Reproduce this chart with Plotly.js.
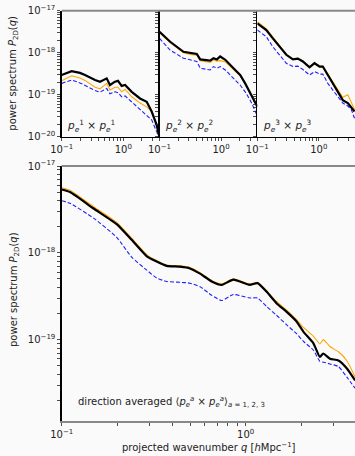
<!DOCTYPE html>
<html>
<head>
<meta charset="utf-8">
<script src="https://cdn.plot.ly/plotly-3.0.1.min.js"></script>
<style>html,body{margin:0;padding:0;background:#fafafa;}#chart{width:355px;height:456px;}</style>
</head>
<body>
<div id="chart"></div>
<script>
// ---- data ----
// panel 1: p_e^1 x p_e^1
const q1 = [0.100,0.145,0.198,0.239,0.348,0.419,0.538,0.608,0.733,0.820,0.942,1.07,1.37,1.87,2.40,2.89,3.48,3.79];
const p1Black  = [2.95e-19,3.63e-19,3.31e-19,2.95e-19,2.24e-19,2.04e-19,2.45e-19,1.70e-19,2.04e-19,2.14e-19,1.62e-19,1.70e-19,1.17e-19,8.13e-20,6.76e-20,3.98e-20,1.91e-20,1.10e-20];
const p1Orange = [2.14e-19,2.82e-19,2.51e-19,2.19e-19,1.51e-19,1.38e-19,1.86e-19,1.29e-19,1.51e-19,1.51e-19,1.17e-19,1.35e-19,8.91e-20,6.31e-20,5.13e-20,3.98e-20,1.91e-20,1.23e-20];
const p1Blue   = [1.86e-19,2.24e-19,1.91e-19,1.66e-19,1.26e-19,1.15e-19,1.41e-19,1.05e-19,1.17e-19,1.12e-19,8.91e-20,9.33e-20,6.76e-20,4.37e-20,3.31e-20,2.51e-20,1.32e-20,1.00e-20];
// panel 2: p_e^2 x p_e^2
const q2 = [0.100,0.149,0.245,0.315,0.404,0.458,0.665,0.753,0.855,0.966,1.17,1.59,2.04,2.46,2.97,3.36,3.90];
const p2Black  = [3.16e-18,1.82e-18,1.05e-18,9.77e-19,9.33e-19,6.92e-19,6.46e-19,7.41e-19,6.92e-19,8.13e-19,6.76e-19,4.27e-19,2.95e-19,1.86e-19,1.07e-19,7.41e-20,5.13e-20];
const p2Orange = [3.02e-18,1.74e-18,1.00e-18,9.12e-19,8.71e-19,6.46e-19,5.89e-19,6.76e-19,6.31e-19,6.46e-19,6.03e-19,3.98e-19,2.82e-19,1.82e-19,1.07e-19,7.59e-20,5.37e-20];
const p2Blue   = [2.19e-18,1.15e-18,7.41e-19,6.76e-19,6.17e-19,4.27e-19,3.89e-19,4.68e-19,4.27e-19,4.68e-19,3.89e-19,2.45e-19,1.70e-19,1.17e-19,7.41e-20,5.01e-20,3.02e-20];
// panel 3: p_e^3 x p_e^3
const q3 = [0.100,0.140,0.179,0.230,0.296,0.379,0.456,0.550,0.706,0.851,1.03,1.16,1.40,1.69,2.03,2.45,2.96,3.36,3.80];
const p3Black  = [5.01e-18,3.47e-18,2.19e-18,1.38e-18,8.91e-19,6.92e-19,7.24e-19,6.17e-19,4.47e-19,5.62e-19,4.68e-19,4.68e-19,2.95e-19,1.86e-19,1.17e-19,7.41e-20,6.31e-20,5.13e-20,3.98e-20];
const p3Orange = [5.50e-18,3.72e-18,2.34e-18,1.45e-18,9.12e-19,7.08e-19,7.41e-19,6.31e-19,4.68e-19,5.75e-19,4.90e-19,4.79e-19,3.16e-19,2.00e-19,1.32e-19,8.71e-20,1.00e-19,6.31e-20,4.47e-20];
const p3Blue   = [3.47e-18,2.40e-18,1.38e-18,8.91e-19,5.62e-19,4.68e-19,4.79e-19,3.98e-19,2.95e-19,3.55e-19,3.09e-19,3.09e-19,1.86e-19,1.29e-19,8.91e-20,6.31e-20,5.37e-20,4.47e-20,2.75e-20];
// bottom panel: direction averaged
const qAvg = [0.100,0.111,0.149,0.199,0.240,0.290,0.328,0.372,0.440,0.498,0.565,0.653,0.741,0.857,1.05,1.16,1.30,1.47,1.67,1.89,2.06,2.33,2.53,2.64,2.87,3.19,3.54,3.93];
const pAvgBlack  = [5.37e-18,5.01e-18,3.24e-18,2.14e-18,1.41e-18,9.12e-19,7.94e-19,7.08e-19,6.92e-19,6.61e-19,5.75e-19,4.68e-19,4.27e-19,4.90e-19,4.27e-19,4.47e-19,3.55e-19,2.63e-19,2.09e-19,1.62e-19,1.23e-19,9.12e-20,6.31e-20,6.92e-20,6.03e-20,5.75e-20,4.68e-20,3.39e-20];
const pAvgOrange = [5.62e-18,5.25e-18,3.39e-18,2.24e-18,1.48e-18,9.55e-19,8.13e-19,7.24e-19,7.08e-19,6.76e-19,5.89e-19,4.79e-19,4.37e-19,5.01e-19,4.37e-19,4.57e-19,3.63e-19,2.75e-19,2.19e-19,1.70e-19,1.38e-19,1.10e-19,8.91e-20,1.00e-19,8.32e-20,7.24e-20,5.75e-20,3.72e-20];
const pAvgBlue   = [3.98e-18,3.72e-18,2.51e-18,1.51e-18,8.91e-19,6.31e-19,5.13e-19,4.68e-19,4.57e-19,4.47e-19,4.07e-19,3.24e-19,2.82e-19,3.31e-19,3.02e-19,3.02e-19,2.40e-19,1.91e-19,1.48e-19,1.17e-19,9.55e-20,7.59e-20,5.62e-20,5.50e-20,5.25e-20,4.90e-20,3.72e-20,2.75e-20];

// ---- ticks (major ticks carry labels, minor ticks carry empty labels) ----
const xTickVals = [0.1, 1];
const xTickText = ['10<sup>−1</sup>', '10<sup>0</sup>'];
const xMinorVals = [0.2, 0.3, 0.4, 0.5, 0.6, 0.7, 0.8, 0.9, 2, 3, 4];
const yTickVals = [1e-20, 1e-19, 1e-18, 1e-17];
const yTickText = ['10<sup>−20</sup>', '10<sup>−19</sup>', '10<sup>−18</sup>', '10<sup>−17</sup>'];
const yMinorVals = [2e-20, 3e-20, 4e-20, 5e-20, 6e-20, 7e-20, 8e-20, 9e-20,
                    2e-19, 3e-19, 4e-19, 5e-19, 6e-19, 7e-19, 8e-19, 9e-19,
                    2e-18, 3e-18, 4e-18, 5e-18, 6e-18, 7e-18, 8e-18, 9e-18];

// ---- texts ----
const panelLabels = [
  '<i>p</i><sub><i>e</i></sub><sup>1</sup> × <i>p</i><sub><i>e</i></sub><sup>1</sup>',
  '<i>p</i><sub><i>e</i></sub><sup>2</sup> × <i>p</i><sub><i>e</i></sub><sup>2</sup>',
  '<i>p</i><sub><i>e</i></sub><sup>3</sup> × <i>p</i><sub><i>e</i></sub><sup>3</sup>'
];
const avgLabel = 'direction averaged ⟨<i>p</i><sub><i>e</i></sub><sup><i>a</i></sup> × <i>p</i><sub><i>e</i></sub><sup><i>a</i></sup>⟩<sub><i>a</i> = 1, 2, 3</sub>';
const yTitle = 'power spectrum <i>P</i><sub>2D</sub>(<i>q</i>)';
const xTitle = 'projected wavenumber <i>q</i> [<i>h</i>Mpc<sup>−1</sup>]';

// ---- layout geometry ----
const W = 355, H = 456;
const FONT = 'DejaVu Sans, sans-serif';
const TXT = '#222';
const px = v => v / W;
const py = v => 1 - v / H;
const topY = [py(136.7), py(10.7)];
const botY = [py(420.7), py(166)];
const xTop = [[px(61.7), px(159.5)], [px(159.5), px(257.3)], [px(257.3), 1]];
const xBot = [px(61.7), 1];

function makeTraces(q, b, o, bl, xa, ya, shape) {
  const ln = (c, w, d) => ({color: c, width: w, dash: d, shape: shape, smoothing: 0.5});
  return [
    {x: q, y: o, type: 'scatter', mode: 'lines', line: ln('#ffa500', 1.1, 'solid'), xaxis: xa, yaxis: ya, hoverinfo: 'skip'},
    {x: q, y: bl, type: 'scatter', mode: 'lines', line: ln('#1f1fff', 1.1, '4px,2px'), xaxis: xa, yaxis: ya, hoverinfo: 'skip'},
    {x: q, y: b, type: 'scatter', mode: 'lines', line: ln('#000000', 2.2, 'solid'), xaxis: xa, yaxis: ya, hoverinfo: 'skip'}
  ];
}

const data = [].concat(
  makeTraces(q1, p1Black, p1Orange, p1Blue, 'x', 'y', 'linear'),
  makeTraces(q2, p2Black, p2Orange, p2Blue, 'x2', 'y2', 'linear'),
  makeTraces(q3, p3Black, p3Orange, p3Blue, 'x3', 'y3', 'linear'),
  makeTraces(qAvg, pAvgBlack, pAvgOrange, pAvgBlue, 'x4', 'y4', 'spline')
);

const tickFont = {family: FONT, size: 10, color: TXT};
const blanks = n => new Array(n).fill('');
function xAx(dom, anchor, range, lineColor, lw) {
  return {domain: dom, anchor: anchor, type: 'log', range: range,
    tickmode: 'array', tickvals: xTickVals.concat(xMinorVals), ticktext: xTickText.concat(blanks(xMinorVals.length)),
    showgrid: false, zeroline: false, showline: true, linecolor: lineColor, linewidth: lw,
    ticks: 'outside', ticklen: 3, tickwidth: 0.8, tickcolor: TXT, tickfont: tickFont};
}
function yAx(dom, anchor, range, labels) {
  return {domain: dom, anchor: anchor, type: 'log', range: range,
    tickmode: 'array', tickvals: yTickVals.concat(yMinorVals), ticktext: yTickText.concat(blanks(yMinorVals.length)),
    showgrid: false, zeroline: false, showline: true, linecolor: '#000', linewidth: 1.4,
    ticks: 'outside', ticklen: 3, tickwidth: 0.8, tickcolor: TXT, tickfont: tickFont,
    showticklabels: labels};
}

const layout = {
  width: W, height: H,
  margin: {l: 0, r: 0, t: 0, b: 0},
  paper_bgcolor: '#fafafa', plot_bgcolor: '#fafafa',
  showlegend: false,
  font: {family: FONT, size: 10, color: TXT},
  xaxis:  xAx(xTop[0], 'y',  [-1, 0.588], '#000', 1.4),
  xaxis2: xAx(xTop[1], 'y2', [-1, 0.588], '#000', 1.4),
  xaxis3: xAx(xTop[2], 'y3', [-1, 0.588], '#000', 1.4),
  xaxis4: xAx(xBot, 'y4', [-1, 0.594], '#888', 2),
  yaxis:  yAx(topY, 'x',  [-20, -17], true),
  yaxis2: yAx(topY, 'x2', [-20, -17], false),
  yaxis3: yAx(topY, 'x3', [-20, -17], false),
  yaxis4: yAx(botY, 'x4', [-19.934, -17], true),
  shapes: [
    {type: 'line', xref: 'paper', yref: 'paper', x0: px(61.7), x1: 1, y0: topY[1], y1: topY[1], line: {color: '#888', width: 2}},
    {type: 'line', xref: 'paper', yref: 'paper', x0: px(61.7), x1: 1, y0: botY[1], y1: botY[1], line: {color: '#888', width: 2}}
  ],
  annotations: [
    {text: yTitle, xref: 'paper', yref: 'paper', x: px(14), y: (topY[0] + topY[1]) / 2, textangle: -90, showarrow: false, font: {family: FONT, size: 10, color: TXT}, xanchor: 'center', yanchor: 'middle'},
    {text: yTitle, xref: 'paper', yref: 'paper', x: px(14), y: py(290), textangle: -90, showarrow: false, font: {family: FONT, size: 10, color: TXT}, xanchor: 'center', yanchor: 'middle'},
    {text: xTitle, xref: 'paper', yref: 'paper', x: px(209), y: py(447), showarrow: false, font: {family: FONT, size: 10, color: TXT}, xanchor: 'center', yanchor: 'middle'},
    {text: panelLabels[0], xref: 'paper', yref: 'paper', x: px(65), y: py(126), showarrow: false, font: {family: FONT, size: 10.5, color: TXT}, xanchor: 'left', yanchor: 'middle'},
    {text: panelLabels[1], xref: 'paper', yref: 'paper', x: px(163), y: py(126), showarrow: false, font: {family: FONT, size: 10.5, color: TXT}, xanchor: 'left', yanchor: 'middle'},
    {text: panelLabels[2], xref: 'paper', yref: 'paper', x: px(261), y: py(126), showarrow: false, font: {family: FONT, size: 10.5, color: TXT}, xanchor: 'left', yanchor: 'middle'},
    {text: avgLabel, xref: 'paper', yref: 'paper', x: px(76), y: py(402), showarrow: false, font: {family: FONT, size: 10, color: TXT}, xanchor: 'left', yanchor: 'middle'}
  ]
};

Plotly.newPlot('chart', data, layout, {staticPlot: true, displayModeBar: false});
</script>
</body>
</html>
